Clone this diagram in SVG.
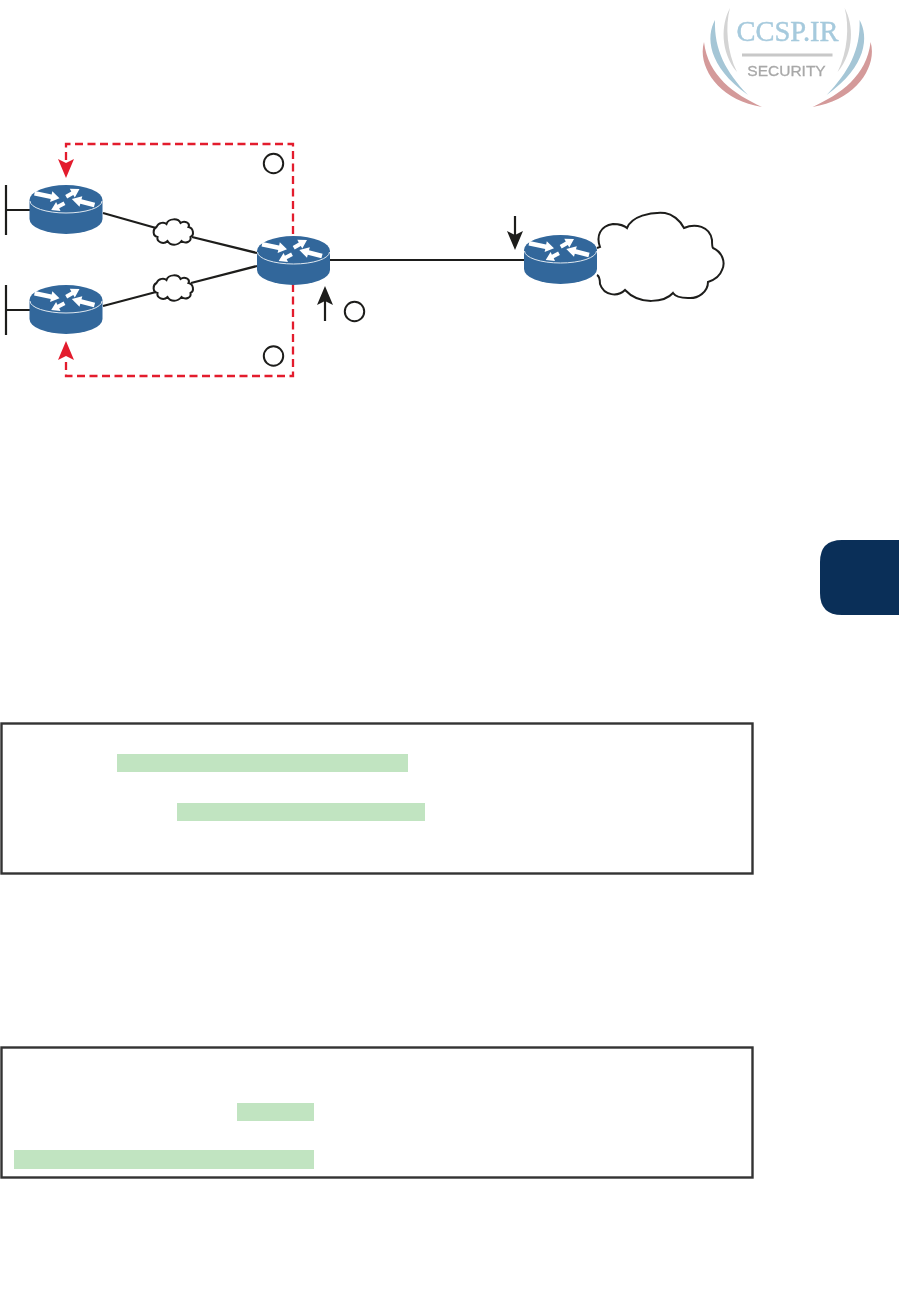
<svg xmlns="http://www.w3.org/2000/svg" xmlns:xlink="http://www.w3.org/1999/xlink" width="899" height="1314" viewBox="0 0 899 1314">
<style>
.body{fill:#32679b}
.rim{fill:none;stroke:#dfe8f0;stroke-width:1}
.ar{fill:#fff}
.wire{fill:none;stroke:#1d1d1b;stroke-width:2.2}
.dash{fill:none;stroke:#e31c2d;stroke-width:2.3;stroke-dasharray:8 4.500}
.cloud{fill:#fff;stroke:#1d1d1b;stroke-width:2}
.badge{fill:#fff;stroke:#1d1d1b;stroke-width:2}
.hl{fill:#c1e4c1}
.box{fill:#fff;stroke:#333;stroke-width:2.400}
</style>
<defs>
<filter id="soft" x="-5%" y="-5%" width="110%" height="110%"><feGaussianBlur stdDeviation="0.55"/></filter>
<g id="router">
<path class="body" d="M0,15 A36.500,15 0 0 1 73,15 V34 A36.500,15 0 0 1 0,34 Z"/>
<path class="rim" d="M0.500,16 A36,12 0 0 0 72.500,16"/>
<polygon class="ar" points="5.460,6.050 22.160,9.450 22.800,6.300 30,13.300 20.600,17.100 21.240,13.950 4.540,10.550"/>
<polygon class="ar" points="37.700,13.400 43.800,9.900 45.300,12.550 50,4 40.300,3.850 41.800,6.500 35.700,10"/>
<polygon class="ar" points="65.600,17.800 52,14.300 52.800,11.200 42.300,14 50,21.800 50.800,18.700 64.400,22.200"/>
<polygon class="ar" points="35.900,20.100 29.700,23.300 31,26 21.700,25 26.600,17 27.900,19.700 34.100,16.500"/>
</g>
<path id="smallcloud" class="cloud" d="M-17,-5 C-15,-10 -9,-10 -7,-8 C-5,-14 5,-14 7,-9 C11,-12 17,-9 15,-5 C20,-4 21,3 17,5 C18,10 12,12 8,9 C4,14 -3,14 -6,9 C-10,13 -17,10 -16,5 C-21,4 -21,-3 -17,-5 Z"/>
</defs>
<g id="logo" filter="url(#soft)">
<g id="logo-left">
<path fill="#d4d4d4" d="M730,8 C721,24 720,52 737,72 C727,52 725,26 730,8 Z"/>
<path fill="#a5c6d6" d="M715,20 C706,36 707,66 748,95 C726,72 714,50 715,20 Z"/>
<path fill="#d49a9a" d="M704,42 C697,66 718,100 762,107 C734,94 708,76 704,42 Z"/>
</g>
<g id="logo-right" transform="translate(1574.6,0) scale(-1,1)">
<path fill="#d4d4d4" d="M730,8 C721,24 720,52 737,72 C727,52 725,26 730,8 Z"/>
<path fill="#a5c6d6" d="M715,20 C706,36 707,66 748,95 C726,72 714,50 715,20 Z"/>
<path fill="#d49a9a" d="M704,42 C697,66 718,100 762,107 C734,94 708,76 704,42 Z"/>
</g>
<text x="787.500" y="41" text-anchor="middle" font-family="'Liberation Serif',serif" font-size="28.500" fill="#a6cadd" stroke="#a6cadd" stroke-width="0.400">CCSP.IR</text>
<rect x="742" y="53.500" width="90.500" height="3" fill="#c8c8c8"/>
<text x="786.500" y="76" text-anchor="middle" font-family="'Liberation Sans',sans-serif" font-size="15.500" fill="#a8a8a8" stroke="#a8a8a8" stroke-width="0.300">SECURITY</text>
</g>
<g id="connectors">
<path class="dash" d="M66,160 V144 H293 V237"/>
<path class="dash" d="M293,284 V376 H66 V358"/>
<path class="wire" d="M6,185 V235 M6,210 H30"/>
<path class="wire" d="M6,285 V335 M6,310 H30"/>
<path class="wire" d="M103,213 L156,228 M192,237 L257,253"/>
<path class="wire" d="M103,306 L156,292 M191,283 L257,266"/>
<path class="wire" d="M330,260 H524"/>
<path class="wire" d="M325,321 V300"/>
<path class="wire" d="M515,216 V238"/>
<polygon fill="#e31c2d" points="66,178 58,159 66,163 74,159"/>
<polygon fill="#e31c2d" points="66,341 58,360 66,356 74,360"/>
<polygon fill="#1d1d1b" points="325,286 317,305 325,301 333,305"/>
<polygon fill="#1d1d1b" points="515,250 507,231 515,235 523,231"/>
</g>
<g id="cloud-small-top"><use xlink:href="#smallcloud" href="#smallcloud" x="173.500" y="232"/></g>
<g id="cloud-small-bottom"><use xlink:href="#smallcloud" href="#smallcloud" x="173.500" y="288"/></g>
<g id="cloud-large"><path class="cloud" d="M597,248 L600,247 C596,236 600,226 613,224 C619,224 625,226 627,228 C632,216 650,212 665,213 C672,214 680,220 684,228 C695,223 710,226 712,240 C712,245 712,247 713,248 C722,252 726,262 722,270 C720,276 714,280 708,282 C708,292 698,299 688,298 C680,298 675,296 673,293 C665,302 640,306 625,290 C618,297 604,296 600,284 C600,280 599,276 597,275"/></g>
<g id="router-a"><use xlink:href="#router" href="#router" x="29.500" y="185"/></g>
<g id="router-b"><use xlink:href="#router" href="#router" x="29.500" y="285"/></g>
<g id="router-c"><use xlink:href="#router" href="#router" x="257" y="236"/></g>
<g id="router-d"><use xlink:href="#router" href="#router" x="524" y="235"/></g>
<g id="badge-1"><circle class="badge" cx="273.500" cy="163.500" r="9.700"/></g>
<g id="badge-2"><circle class="badge" cx="273.500" cy="356" r="9.700"/></g>
<g id="badge-3"><circle class="badge" cx="354.500" cy="311.500" r="9.700"/></g>
<g id="tab"><path fill="#0a2f58" d="M899,540 H842 Q820,540 820,562 V593 Q820,615 842,615 H899 Z"/></g>
<g id="listing-1">
<rect class="box" x="1.500" y="723.500" width="751" height="150"/>
<rect class="hl" x="117" y="754" width="291" height="18"/>
<rect class="hl" x="177" y="803" width="248" height="18"/>
</g>
<g id="listing-2">
<rect class="box" x="1.500" y="1047.500" width="751" height="130"/>
<rect class="hl" x="237" y="1103" width="77" height="18"/>
<rect class="hl" x="14" y="1150" width="300" height="19"/>
</g>
</svg>
